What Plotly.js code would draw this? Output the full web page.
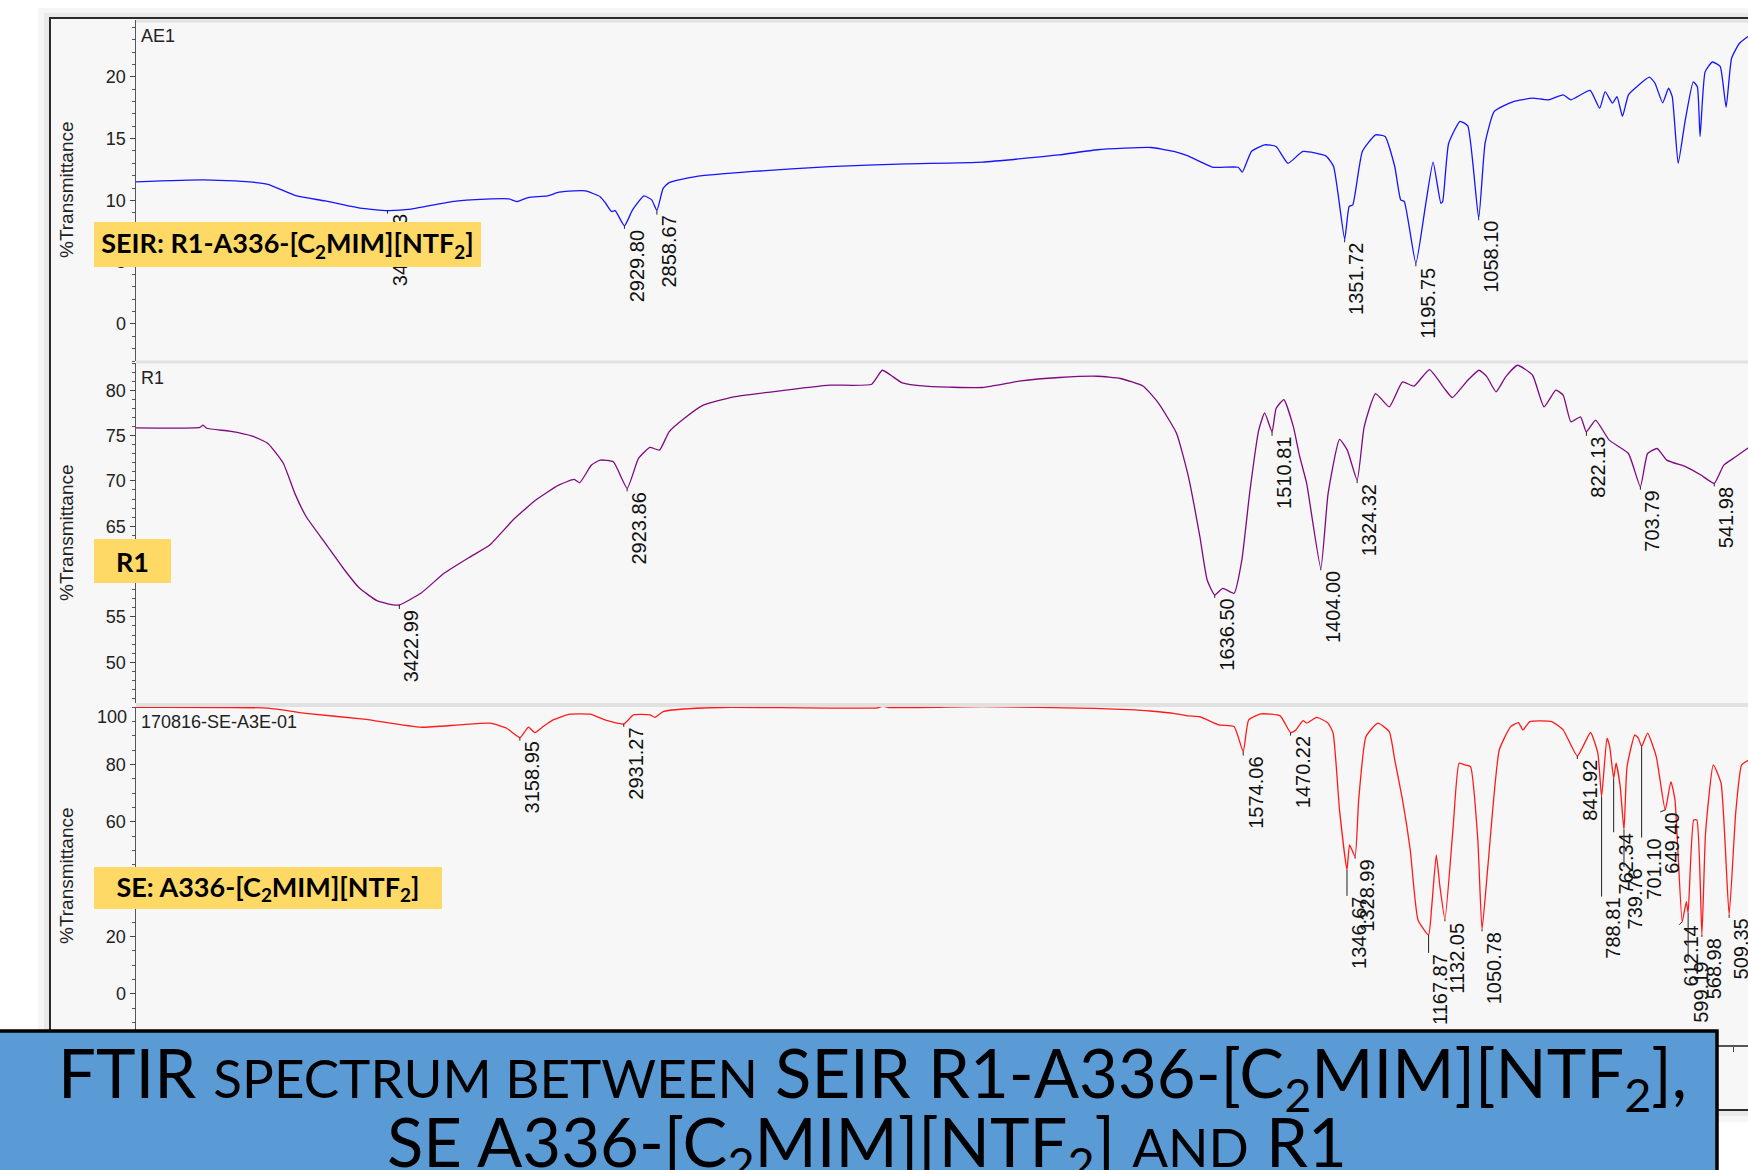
<!DOCTYPE html>
<html>
<head>
<meta charset="utf-8">
<script src="https://cdn.plot.ly/plotly-3.0.1.min.js"></script>
<style>
html,body{margin:0;padding:0;background:#ffffff;}
#chart{width:1748px;height:1170px;}
</style>
</head>
<body>
<div id="chart"></div>
<script>
// ---------------- DATA ----------------
// Panel 1: SEIR R1-A336-[C2MIM][NTF2]  (AE1)
const wn1 = [4000,3853,3752,3711,3648,3586,3509,3448.93,3397,3308,3233,3183,3166,3141,3099,3073,3040,3015,2983,2971,2958,2950,2929.80,2912,2887,2870,2858.67,2845,2832,2774,2648,2480,2313,2145,1978,1893,1776,1726,1695,1640,1585,1576,1556,1527,1502,1476,1443,1393,1376,1351.72,1342,1334,1313,1284,1263,1242,1229,1221,1195.75,1175,1158,1141,1137,1124,1099,1082,1058.10,1044,1024,982,940,906,873,856,814,793,781,765,755,743,730,713,684,672,655,642,634,621,606,588,579,573,562,546,529,516,504,487,468];
const t1  = [11.5,11.66,11.5,11.3,10.36,9.96,9.37,9.17,9.29,9.9,10.1,10.12,9.9,10.23,10.36,10.66,10.77,10.77,10.3,9.77,9.1,9.17,7.94,9.23,10.36,10.04,9.17,10.97,11.44,11.93,12.34,12.74,12.96,13.1,13.68,14.1,14.28,13.96,13.6,12.68,12.68,12.28,13.96,14.5,14.36,13.0,13.96,13.6,12.74,6.85,9.5,9.64,13.96,15.3,15.17,12.74,10.04,9.9,4.91,9.5,13.1,9.77,9.9,14.6,16.4,16.03,8.56,14.63,17.2,18.0,18.27,18.14,18.54,18.14,18.9,17.46,18.8,17.87,18.4,16.8,18.54,19.16,19.97,19.5,17.9,19.08,18.4,13.0,16.38,19.6,19.2,15.17,20.4,21.2,20.85,17.54,21.5,22.7,23.26];

// Panel 2: R1
const wn2 = [4000,3860,3853,3845,3795,3745,3711,3677,3652,3627,3585,3543,3510,3472,3440,3422.99,3376,3325,3267,3225,3174,3124,3074,3040,3028,3002,2983,2954,2923.86,2899,2874,2853,2832,2799,2757,2690,2606,2480,2388,2365,2346,2321,2271,2145,2061,1977,1893,1843,1793,1759,1720,1694,1669,1653,1636.50,1619,1594,1577,1560,1540,1527,1510.81,1502,1485,1464,1451,1435,1404.00,1388,1363,1346,1324.32,1309,1284,1254,1225,1200,1166,1133,1116,1082,1057,1040,1020,999,973,940,915,889,873,856,835,822.13,802,772,730,703.79,688,667,646,604,571,541.98,521,495,466];
const t2  = [75.85,75.9,76.15,75.8,75.48,74.93,74.13,71.92,68.62,66.04,63.11,60.17,58.15,56.79,56.35,56.31,57.6,59.8,61.64,62.92,65.68,67.88,69.53,70.16,69.79,71.74,72.29,72.1,69.17,72.47,73.69,73.39,75.41,76.88,78.35,79.27,79.82,80.55,80.66,82.2,81.65,80.8,80.44,80.3,81.03,81.4,81.54,81.29,80.44,78.53,75.23,70.45,63.84,59.07,57.42,58.15,57.6,61.27,68.62,75.6,77.5,75.41,77.98,78.97,75.96,72.84,69.72,60.36,68.62,74.57,73.39,70.08,75.96,79.63,78.16,80.92,80.44,82.28,80.18,79.19,81.1,82.2,81.47,79.82,81.47,82.75,81.65,78.16,80.0,79.45,76.51,77.06,75.41,76.7,74.49,73.02,69.35,73.02,73.57,72.29,71.55,70.64,69.72,71.74,72.65,73.69];

// Panel 3: SE A336-[C2MIM][NTF2]  (170816-SE-A3E-01)
const wn3 = [4000,3711,3628,3501,3376,3292,3224,3188,3158.95,3140,3126,3108,3086,3049,3005,2969,2931.27,2910,2874,2863,2845,2801,2699,2480,2375,2363,2350,2145,1900,1810,1778,1726,1694,1669,1627,1594,1574.06,1562,1535,1493,1470.22,1460,1443,1435,1413,1388,1377,1363,1346.67,1341,1328.99,1321,1305,1279,1254,1242,1225,1208,1191,1167.87,1161,1151,1143,1132.05,1114,1101,1089,1076,1060,1050.78,1038,1013,988,971,961,946,898,873,841.92,813,797,788.81,777,771,762.34,757,748,739.76,733,716,708,701.10,688,669,649.40,637,628,612.14,603,599.19,587,580,568.98,561,544,527,509.35,495,482,466];
const t3  = [100.0,99.7,97.9,95.85,93.05,93.86,94.45,92.7,89.44,93.05,91.17,93.27,95.6,97.6,97.6,95.4,94.2,97.35,97.35,96.5,98.5,99.4,100.0,99.7,99.8,100.4,99.9,100.2,99.6,99.1,98.7,97.9,97.0,96.7,93.86,93.27,84.55,95.6,97.7,97.0,91.17,91.87,95.37,94.45,96.5,94.45,90.96,64.2,43.27,52.0,47.9,67.7,89.8,94.45,91.5,81.65,67.7,50.2,25.8,20.6,30.46,48.5,37.44,26.05,58.37,80.5,79.9,79.3,53.7,22.56,44.4,85.1,93.27,94.66,92.1,95.0,95.0,92.1,83.0,91.2,84.0,68.85,89.2,86.3,75.25,80.5,72.3,57.2,79.3,90.4,89.2,86.3,91.0,82.8,64.2,74.1,67.7,25.2,32.2,28.2,60.7,60.7,20.6,56.1,79.9,73.5,27.6,63.05,79.9,81.65];

// Labelled peaks (wavenumber, %T)
const peaks1_wn = [3448.93,2929.80,2858.67,1351.72,1195.75,1058.10];
const peaks1_t  = [9.17,7.94,9.17,6.85,4.91,8.56];
const peaks2_wn = [3422.99,2923.86,1636.50,1510.81,1404.00,1324.32,822.13,703.79,541.98];
const peaks2_t  = [56.31,69.17,57.42,75.41,60.36,70.08,75.41,69.35,69.72];
const peaks3_wn = [3158.95,2931.27,1574.06,1470.22,1346.67,1328.99,1167.87,1132.05,1050.78,841.92,788.81,762.34,739.76,701.10,649.40,612.14,599.19,568.98,509.35];
const peaks3_t  = [89.44,94.2,84.55,91.17,43.27,47.9,20.6,26.05,22.56,83.0,68.85,75.25,57.2,86.3,64.2,25.2,28.2,20.6,27.6];

// Axis ticks (only the x tick that is not hidden by the banner is drawn)
const xTicks = [500];
const yTicks1 = [0,5,10,15,20];
const yTicks2 = [50,55,60,65,70,75,80];
const yTicks3 = [0,20,40,60,80,100];

// Texts
const sampleIds = ['AE1','R1','170816-SE-A3E-01'];
const panelLabels = ['SEIR: R1-A336-[C<sub>2</sub>MIM][NTF<sub>2</sub>]','R1','SE: A336-[C<sub>2</sub>MIM][NTF<sub>2</sub>]'];
const yTitle = '%Transmittance';
const titleLine1 = 'FTIR <span style="font-size:53px">SPECTRUM BETWEEN</span> SEIR R1-A336-[C<sub>2</sub>MIM][NTF<sub>2</sub>],';
const titleLine2 = 'SE A336-[C<sub>2</sub>MIM][NTF<sub>2</sub>] <span style="font-size:53px">AND</span> R1';

// ---------------- STYLE / LAYOUT ----------------
// leader lengths (px) and side offsets for the peak labels
const lead1 = [3,3,4,3,3,2];
const lead2 = [4,3,3,4,2,3,4,3,3];
const lead3 = [3,3,4,3,26,2,18,2,2,3,100,54,37,91,2,3,48,2,3];
const side3 = [0,0,0,0,0,0,0,0,0,0,0,0,0,0,-5,-3,0,0,0];

const W = 1748, H = 1170, ML = 136, MR = 0, MT = 20, MB = 125;
const PW = W - ML - MR, PH = H - MT - MB;
const px = v => (v - ML) / PW;          // page pixel -> paper x
const py = v => (MT + PH - v) / PH;     // page pixel -> paper y

const NARROW = 'Liberation Sans Narrow, Arial Narrow, Liberation Sans, Arial, sans-serif';
const ARIAL = 'Liberation Sans, Arial, sans-serif';

const lineStyle = (c) => ({color: c, width: 1.3, shape: 'spline', smoothing: 0.45});
const traces = [
  {x: wn1, y: t1, xaxis: 'x', yaxis: 'y',  mode: 'lines', line: lineStyle('#1414ff'), name: sampleIds[0], hoverinfo: 'skip'},
  {x: wn2, y: t2, xaxis: 'x', yaxis: 'y2', mode: 'lines', line: lineStyle('#7f0a80'), name: sampleIds[1], hoverinfo: 'skip'},
  {x: wn3, y: t3, xaxis: 'x', yaxis: 'y3', mode: 'lines', line: lineStyle('#ff1a1a'), name: sampleIds[2], hoverinfo: 'skip'}
];

function yax(domain, range, ticks, minorDtick, minorStart) {
  return {
    domain: domain, range: range, anchor: 'x',
    tickmode: 'array', tickvals: ticks.filter(v => v <= range[1] - 0.5),
    ticks: 'outside', ticklen: 5, tickwidth: 1, tickcolor: '#444',
    minor: {ticks: 'outside', tickmode: 'linear', dtick: minorDtick, tick0: minorStart, ticklen: 3, tickwidth: 1, tickcolor: '#555'},
    showline: true, linecolor: '#555', linewidth: 1.5,
    showgrid: false, zeroline: false,
    tickfont: {family: NARROW, size: 18, color: '#222'}
  };
}

function peakAnns(wns, ts, leads, sides, yref) {
  // text rotated -90: 'right' = end of the number (top), 'top' = glyph tops (left side)
  return wns.map((w, i) => ({
    x: w, y: ts[i], xref: 'x', yref: yref,
    text: w.toFixed(2), textangle: -90,
    showarrow: true, arrowhead: 0, arrowwidth: 1, arrowcolor: '#222', standoff: 0,
    ax: sides ? sides[i] : 0, ay: leads[i],
    xanchor: 'right', yanchor: 'top', borderpad: 0,
    font: {family: ARIAL, size: 20, color: '#111'}
  }));
}

const yTitleAnn = (yc) => ({xref: 'paper', yref: 'paper', x: px(66), y: py(yc), xanchor: 'center', yanchor: 'middle',
  showarrow: false, textangle: -90, text: yTitle, font: {family: ARIAL, size: 19, color: '#222'}});

const annotations = [].concat(
  peakAnns(peaks1_wn, peaks1_t, lead1, null, 'y'),
  peakAnns(peaks2_wn, peaks2_t, lead2, null, 'y2'),
  peakAnns(peaks3_wn, peaks3_t, lead3, side3, 'y3'),
  [
    yTitleAnn(190), yTitleAnn(533), yTitleAnn(876),
    // sample ids
    {xref: 'paper', yref: 'paper', x: px(139), y: py(36), xanchor: 'left', yanchor: 'middle', showarrow: false, text: sampleIds[0], font: {family: NARROW, size: 18, color: '#222'}},
    {xref: 'paper', yref: 'paper', x: px(139), y: py(378), xanchor: 'left', yanchor: 'middle', showarrow: false, text: sampleIds[1], font: {family: NARROW, size: 18, color: '#222'}},
    {xref: 'paper', yref: 'paper', x: px(139), y: py(722), xanchor: 'left', yanchor: 'middle', showarrow: false, text: sampleIds[2], font: {family: NARROW, size: 18, color: '#222'}},
    // top tick label of the lower panel (drawn just inside the top edge)
    {xref: 'paper', yref: 'paper', x: px(129), y: py(717), xanchor: 'right', yanchor: 'middle', showarrow: false, text: String(yTicks3[yTicks3.length - 1]), font: {family: NARROW, size: 18, color: '#222'}},
    // yellow sample tags
    {xref: 'paper', yref: 'paper', x: px(287.5), y: py(244.5), xanchor: 'center', yanchor: 'middle', showarrow: false,
     text: '<b>' + panelLabels[0] + '</b>', bgcolor: '#ffd966', width: 387, height: 45, borderpad: 0, borderwidth: 0,
     font: {family: 'Lato, sans-serif', size: 27, color: '#000'}},
    {xref: 'paper', yref: 'paper', x: px(132.5), y: py(561), xanchor: 'center', yanchor: 'middle', showarrow: false,
     text: '<b>' + panelLabels[1] + '</b>', bgcolor: '#ffd966', width: 77, height: 44, borderpad: 0, borderwidth: 0,
     font: {family: 'Lato, sans-serif', size: 27, color: '#000'}},
    {xref: 'paper', yref: 'paper', x: px(268), y: py(888), xanchor: 'center', yanchor: 'middle', showarrow: false,
     text: '<b>' + panelLabels[2] + '</b>', bgcolor: '#ffd966', width: 348, height: 42, borderpad: 0, borderwidth: 0,
     font: {family: 'Lato, sans-serif', size: 27, color: '#000'}},
    // slide title
    {xref: 'paper', yref: 'paper', x: px(872), y: py(1077), xanchor: 'center', yanchor: 'middle', showarrow: false,
     text: titleLine1, font: {family: 'Lato, sans-serif', size: 67, color: '#000'}},
    {xref: 'paper', yref: 'paper', x: px(867), y: py(1146), xanchor: 'center', yanchor: 'middle', showarrow: false,
     text: titleLine2, font: {family: 'Lato, sans-serif', size: 67, color: '#000'}}
  ]
);

const shapes = [
  // window shadow + frame
  {type: 'rect', xref: 'paper', yref: 'paper', x0: px(38), x1: px(1760), y0: py(1122), y1: py(8), fillcolor: 'rgba(0,0,0,0.035)', line: {width: 0}, layer: 'below'},
  {type: 'rect', xref: 'paper', yref: 'paper', x0: px(44), x1: px(1760), y0: py(1116), y1: py(13), fillcolor: 'rgba(0,0,0,0.05)', line: {width: 0}, layer: 'below'},
  {type: 'rect', xref: 'paper', yref: 'paper', x0: px(50), x1: px(1760), y0: py(1110), y1: py(18), fillcolor: '#f7f7f7', line: {color: '#2b2b2b', width: 2}, layer: 'below'},
  // panel separators
  {type: 'line', xref: 'paper', yref: 'paper', x0: 0, x1: 1, y0: py(21), y1: py(21), line: {color: '#e1e1e1', width: 3}, layer: 'below'},
  {type: 'line', xref: 'paper', yref: 'paper', x0: 0, x1: 1, y0: py(362), y1: py(362), line: {color: '#e1e1e1', width: 3}, layer: 'below'},
  {type: 'line', xref: 'paper', yref: 'paper', x0: 0, x1: 1, y0: py(705), y1: py(705), line: {color: '#e1e1e1', width: 4}, layer: 'below'},
  // title banner
  {type: 'rect', xref: 'paper', yref: 'paper', x0: px(-4), x1: px(1717), y0: py(1180), y1: py(1031), fillcolor: '#5b9bd5', line: {color: '#000', width: 3.5}, layer: 'above'}
];

const layout = {
  width: W, height: H,
  margin: {l: ML, r: MR, t: MT, b: MB, pad: 0},
  paper_bgcolor: '#ffffff', plot_bgcolor: '#f7f7f7',
  showlegend: false,
  xaxis: {range: [4000, 468], anchor: 'y3', domain: [0, 1], tickmode: 'array', tickvals: xTicks,
          ticks: 'outside', ticklen: 5, tickcolor: '#444', showline: true, linecolor: '#555', linewidth: 1.5,
          showgrid: false, zeroline: false, tickfont: {family: NARROW, size: 18, color: '#222'}},
  yaxis:  yax([py(361), 1], [-3.0, 24.6], yTicks1, 1, 0),
  yaxis2: yax([py(703), py(363)], [45.5, 83.0], yTicks2, 1, 50),
  yaxis3: yax([0, py(707)], [-17.8, 100.1], yTicks3, 5, 0),
  shapes: shapes,
  annotations: annotations
};

Plotly.newPlot('chart', traces, layout, {displayModeBar: false, staticPlot: true});
</script>
</body>
</html>
